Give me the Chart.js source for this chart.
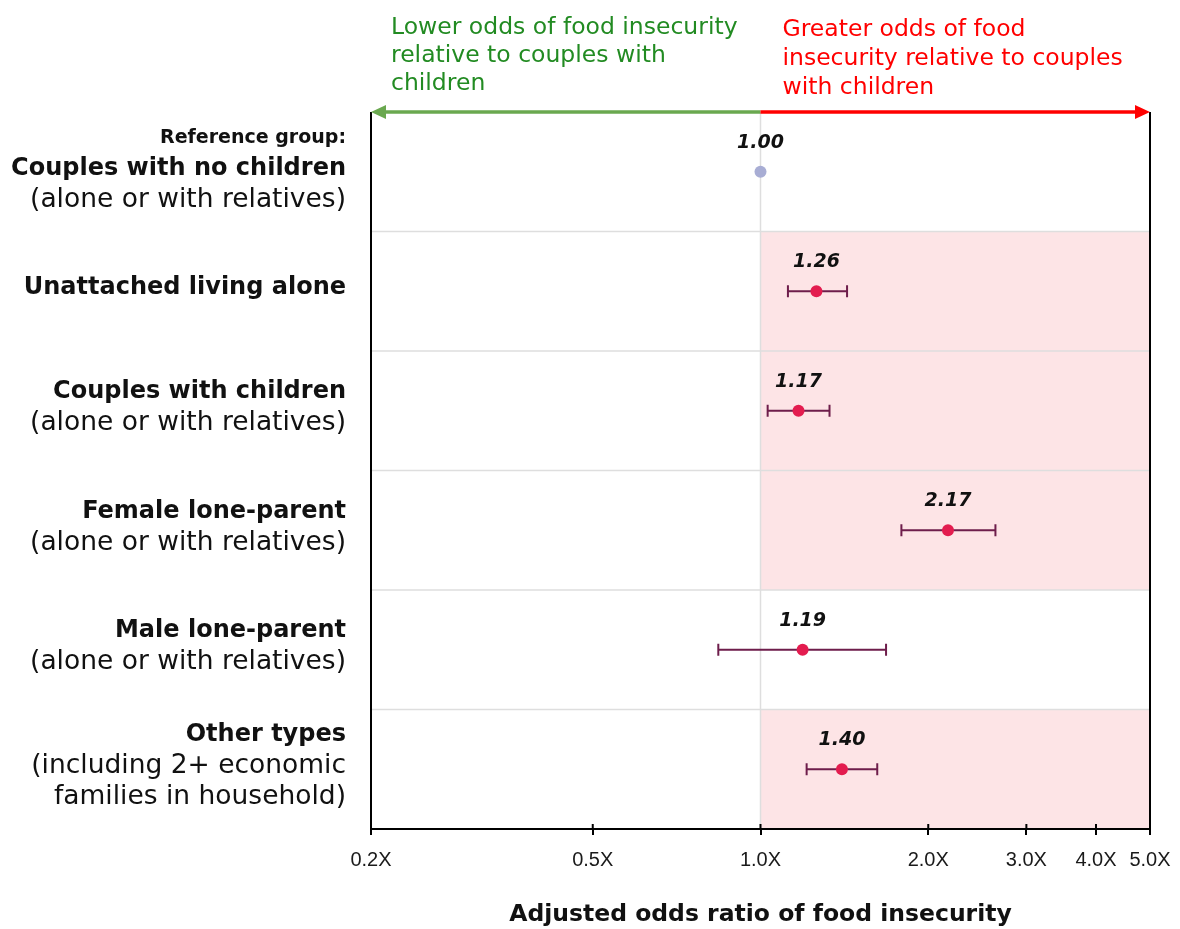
<!DOCTYPE html>
<html>
<head>
<meta charset="utf-8">
<script src="https://cdn.jsdelivr.net/npm/chart.js@4"></script>
<style>
  body { margin: 0; background: #fff; }
  #wrap { width: 1180px; height: 929px; }
</style>
</head>
<body>
<div id="wrap"><canvas id="forest"></canvas></div>
<script>
const FONT = '"DejaVu Sans", "Noto Sans", sans-serif';
const TICK_FONT = '"Liberation Sans", Arial, sans-serif';

// data
const categories = ['Couples with no children', 'Unattached living alone', 'Couples with children',
                    'Female lone-parent', 'Male lone-parent', 'Other types'];
const labelLines = [
  [['Reference group:', 'sub'], ['Couples with no children', 'bold'], ['(alone or with relatives)', 'reg']],
  [['Unattached living alone', 'bold']],
  [['Couples with children', 'bold'], ['(alone or with relatives)', 'reg']],
  [['Female lone-parent', 'bold'], ['(alone or with relatives)', 'reg']],
  [['Male lone-parent', 'bold'], ['(alone or with relatives)', 'reg']],
  [['Other types', 'bold'], ['(including 2+ economic', 'reg'], ['families in household)', 'reg']]
];
const oddsRatios = [1.00, 1.26, 1.17, 2.17, 1.19, 1.40];
const ciLow  = [null, 1.12, 1.03, 1.79, 0.84, 1.21];
const ciHigh = [null, 1.43, 1.33, 2.64, 1.68, 1.62];
const tickValues = [0.2, 0.5, 1.0, 2.0, 3.0, 4.0, 5.0];
const lowerNote = ['Lower odds of food insecurity', 'relative to couples with', 'children'];
const greaterNote = ['Greater odds of food', 'insecurity relative to couples', 'with children'];

const labelFonts = {
  sub: 'bold 19px ' + FONT,
  bold: 'bold 24px ' + FONT,
  reg: '26.5px ' + FONT
};

const forestDecor = {
  id: 'forestDecor',
  beforeDraw(chart) {
    const {ctx, chartArea: a, scales: {x, y}} = chart;
    const x1 = x.getPixelForValue(1);
    ctx.save();
    // pink rows where the whole interval sits above 1
    ctx.fillStyle = '#fde4e6';
    oddsRatios.forEach((v, i) => {
      if (ciLow[i] != null && ciLow[i] > 1) {
        const t = y.getPixelForValue(i - 0.5), b = y.getPixelForValue(i + 0.5);
        ctx.fillRect(x1, t, a.right - x1, b - t);
      }
    });
    // row separators
    ctx.strokeStyle = '#dedede';
    ctx.lineWidth = 1.5;
    for (let i = 0; i < categories.length - 1; i++) {
      const yy = y.getPixelForValue(i + 0.5);
      ctx.beginPath(); ctx.moveTo(a.left, yy); ctx.lineTo(a.right, yy); ctx.stroke();
    }
    // reference line at 1.0
    ctx.beginPath(); ctx.moveTo(x1, a.top); ctx.lineTo(x1, a.bottom); ctx.stroke();
    ctx.restore();
  },
  beforeDatasetsDraw(chart) {
    const {ctx, scales: {x, y}} = chart;
    ctx.save();
    ctx.strokeStyle = '#6e1d4b';
    ctx.lineWidth = 2;
    oddsRatios.forEach((v, i) => {
      if (ciLow[i] == null) return;
      const lo = x.getPixelForValue(ciLow[i]), hi = x.getPixelForValue(ciHigh[i]);
      const yy = y.getPixelForValue(i);
      ctx.beginPath();
      ctx.moveTo(lo, yy); ctx.lineTo(hi, yy);
      ctx.moveTo(lo, yy - 6); ctx.lineTo(lo, yy + 6);
      ctx.moveTo(hi, yy - 6); ctx.lineTo(hi, yy + 6);
      ctx.stroke();
    });
    ctx.restore();
  },
  afterDraw(chart) {
    const {ctx, chartArea: a, scales: {x, y}} = chart;
    const x1 = x.getPixelForValue(1);
    ctx.save();

    // value labels
    ctx.fillStyle = '#111';
    ctx.font = 'italic bold 19px ' + FONT;
    ctx.textAlign = 'center';
    ctx.textBaseline = 'middle';
    oddsRatios.forEach((v, i) => {
      ctx.fillText(v.toFixed(2), x.getPixelForValue(v), y.getPixelForValue(i) - 29);
    });

    // side borders
    ctx.strokeStyle = '#000';
    ctx.lineWidth = 2;
    ctx.beginPath();
    ctx.moveTo(a.left, a.top); ctx.lineTo(a.left, a.bottom + 4);
    ctx.moveTo(a.right, a.top); ctx.lineTo(a.right, a.bottom);
    ctx.stroke();
    // tick marks crossing the axis
    ctx.beginPath();
    tickValues.forEach(v => {
      const xx = x.getPixelForValue(v);
      ctx.moveTo(xx, a.bottom - 5); ctx.lineTo(xx, a.bottom);
    });
    ctx.stroke();

    // direction arrows on top
    const ay = a.top;
    ctx.lineWidth = 3.5;
    ctx.strokeStyle = '#6aa84f';
    ctx.beginPath(); ctx.moveTo(a.left + 12, ay); ctx.lineTo(x1, ay); ctx.stroke();
    ctx.fillStyle = '#6aa84f';
    ctx.beginPath(); ctx.moveTo(a.left, ay); ctx.lineTo(a.left + 15, ay - 7); ctx.lineTo(a.left + 15, ay + 7); ctx.closePath(); ctx.fill();
    ctx.strokeStyle = '#ff0000';
    ctx.beginPath(); ctx.moveTo(x1, ay); ctx.lineTo(a.right - 12, ay); ctx.stroke();
    ctx.fillStyle = '#ff0000';
    ctx.beginPath(); ctx.moveTo(a.right, ay); ctx.lineTo(a.right - 15, ay - 7); ctx.lineTo(a.right - 15, ay + 7); ctx.closePath(); ctx.fill();

    // direction notes
    ctx.font = '23.5px ' + FONT;
    ctx.textAlign = 'left';
    ctx.fillStyle = '#228b22';
    lowerNote.forEach((t, k) => ctx.fillText(t, a.left + 20, 28 + k * 28));
    ctx.fillStyle = '#ff0000';
    greaterNote.forEach((t, k) => ctx.fillText(t, x1 + 22, 30 + k * 29));

    // category labels
    ctx.fillStyle = '#111';
    ctx.textAlign = 'right';
    labelLines.forEach((lines, i) => {
      const c = y.getPixelForValue(i) - 3;
      const start = c - (lines.length - 1) * 31 / 2;
      lines.forEach(([t, s], k) => {
        ctx.font = labelFonts[s];
        ctx.fillText(t, a.left - 25, start + k * 31);
      });
    });
    ctx.restore();
  }
};

new Chart('forest', {
  type: 'scatter',
  data: {
    datasets: [{
      label: 'Adjusted odds ratio',
      data: oddsRatios.map((v, i) => ({x: v, y: i})),
      pointBackgroundColor: oddsRatios.map((v, i) => ciLow[i] == null ? '#a8add4' : '#e31c4f'),
      pointBorderWidth: 0,
      pointRadius: 6,
      pointHoverRadius: 6
    }]
  },
  options: {
    responsive: true,
    maintainAspectRatio: false,
    animation: false,
    layout: { padding: { left: 371, right: 30, top: 112, bottom: 0 } },
    plugins: { legend: { display: false }, tooltip: { enabled: false } },
    scales: {
      x: {
        type: 'logarithmic',
        min: 0.2,
        max: 5,
        afterBuildTicks: s => { s.ticks = tickValues.map(v => ({value: v})); },
        afterFit: s => { s.height = 100; s.paddingLeft = 0; s.paddingRight = 0; },
        ticks: {
          callback: v => Number(v).toFixed(1) + 'X',
          font: { family: TICK_FONT, size: 20 },
          color: '#1a1a1a',
          padding: 13,
          maxRotation: 0,
          autoSkip: false
        },
        grid: { drawOnChartArea: false, color: '#000', tickLength: 6, lineWidth: 2 },
        border: { color: '#000', width: 2 },
        title: {
          display: true,
          text: 'Adjusted odds ratio of food insecurity',
          font: { family: FONT, size: 23.5, weight: 'bold' },
          color: '#111',
          padding: { top: 0, bottom: 0 }
        }
      },
      y: { type: 'linear', min: -0.5, max: 5.5, reverse: true, display: false }
    }
  },
  plugins: [forestDecor]
});
</script>
</body>
</html>
